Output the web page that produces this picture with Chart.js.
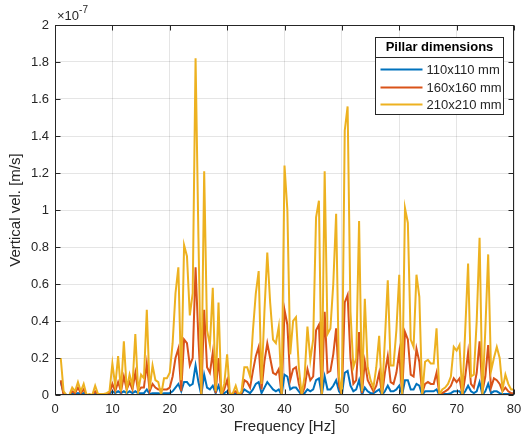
<!doctype html>
<html>

<head>
	<title>Vertical velocity spectrum</title>
	<script src="https://cdn.jsdelivr.net/npm/chart.js@4.4.1/dist/chart.umd.min.js"></script>
	<style>
	body {
		margin: 0;
		background: #fff;
	}
	canvas {
		display: block;
	}
	</style>
</head>

<body>
	<canvas id="chart" width="532" height="443"></canvas>
	<script>
		// spectrum sampled every 0.5 Hz from 1 Hz to 80 Hz, values in 1e-7 m/s
		var startHz = 1;
		var stepHz = 0.5;

		var vel110 = [
			0.07, 0.01, 0.00, 0.00, 0.01, 0.005, 0.01, 0.005, 0.01, 0.00,
			0.00, 0.00, 0.01, 0.00, 0.00, 0.00, 0.00, 0.005, 0.02, 0.01,
			0.02, 0.01, 0.02, 0.01, 0.02, 0.01, 0.02, 0.01, 0.01, 0.01,
			0.03, 0.005, 0.01, 0.01, 0.01, 0.005, 0.01, 0.01, 0.01, 0.02,
			0.04, 0.06, 0.02, 0.07, 0.07, 0.05, 0.06, 0.16, 0.07, 0.00,
			0.11, 0.04, 0.03, 0.05, 0.01, 0.05, 0.00, 0.01, 0.02, 0.00,
			0.005, 0.005, 0.00, 0.005, 0.03, 0.02, 0.01, 0.03, 0.06, 0.07,
			0.01, 0.04, 0.07, 0.05, 0.03, 0.02, 0.03, 0.00, 0.11, 0.10,
			0.03, 0.04, 0.04, 0.02, 0.00, 0.01, 0.03, 0.02, 0.03, 0.08,
			0.09, 0.00, 0.10, 0.03, 0.03, 0.05, 0.08, 0.02, 0.00, 0.12,
			0.13, 0.05, 0.02, 0.03, 0.08, 0.00, 0.04, 0.02, 0.01, 0.01,
			0.02, 0.03, 0.00, 0.02, 0.05, 0.02, 0.02, 0.03, 0.05, 0.00,
			0.08, 0.08, 0.03, 0.03, 0.06, 0.05, 0.00, 0.02, 0.02, 0.02,
			0.02, 0.03, 0.00, 0.005, 0.005, 0.005, 0.01, 0.02, 0.02, 0.02,
			0.00, 0.02, 0.05, 0.02, 0.01, 0.02, 0.07, 0.00, 0.02, 0.06,
			0.01, 0.02, 0.02, 0.01, 0.005, 0.005, 0.005, 0.005, 0.005
		];

		var vel160 = [
			0.08, 0.00, 0.00, 0.00, 0.02, 0.01, 0.04, 0.01, 0.03, 0.00,
			0.00, 0.00, 0.02, 0.00, 0.00, 0.00, 0.005, 0.01, 0.06, 0.02,
			0.07, 0.02, 0.10, 0.03, 0.07, 0.03, 0.12, 0.02, 0.04, 0.04,
			0.17, 0.02, 0.06, 0.04, 0.03, 0.03, 0.03, 0.03, 0.04, 0.10,
			0.20, 0.25, 0.02, 0.30, 0.28, 0.16, 0.20, 0.69, 0.30, 0.00,
			0.46, 0.15, 0.12, 0.23, 0.01, 0.20, 0.00, 0.03, 0.08, 0.00,
			0.01, 0.02, 0.00, 0.01, 0.08, 0.07, 0.04, 0.13, 0.21, 0.26,
			0.03, 0.18, 0.28, 0.20, 0.12, 0.11, 0.14, 0.00, 0.46, 0.38,
			0.08, 0.14, 0.15, 0.06, 0.00, 0.04, 0.14, 0.08, 0.10, 0.35,
			0.38, 0.00, 0.45, 0.12, 0.13, 0.22, 0.36, 0.05, 0.00, 0.50,
			0.54, 0.20, 0.06, 0.08, 0.34, 0.01, 0.18, 0.08, 0.05, 0.02,
			0.05, 0.12, 0.00, 0.12, 0.21, 0.07, 0.06, 0.12, 0.23, 0.00,
			0.34, 0.30, 0.11, 0.10, 0.25, 0.18, 0.01, 0.06, 0.07, 0.06,
			0.06, 0.12, 0.00, 0.01, 0.02, 0.03, 0.05, 0.09, 0.07, 0.09,
			0.00, 0.10, 0.23, 0.06, 0.04, 0.12, 0.29, 0.02, 0.10, 0.27,
			0.04, 0.09, 0.08, 0.06, 0.02, 0.04, 0.02, 0.01, 0.01
		];

		var vel210 = [
			0.20, 0.02, 0.00, 0.00, 0.04, 0.02, 0.07, 0.02, 0.06, 0.00,
			0.005, 0.00, 0.05, 0.005, 0.005, 0.005, 0.01, 0.02, 0.17, 0.05,
			0.21, 0.02, 0.29, 0.03, 0.11, 0.05, 0.33, 0.02, 0.11, 0.09,
			0.46, 0.03, 0.16, 0.08, 0.07, 0.00, 0.09, 0.09, 0.12, 0.28,
			0.55, 0.69, 0.08, 0.81, 0.75, 0.43, 0.55, 1.82, 0.85, 0.00,
			1.21, 0.35, 0.27, 0.58, 0.02, 0.50, 0.00, 0.06, 0.22, 0.00,
			0.01, 0.05, 0.00, 0.02, 0.15, 0.15, 0.10, 0.35, 0.55, 0.67,
			0.06, 0.45, 0.77, 0.50, 0.30, 0.28, 0.37, 0.00, 1.24, 1.00,
			0.22, 0.40, 0.42, 0.15, 0.00, 0.10, 0.37, 0.19, 0.30, 0.96,
			1.05, 0.00, 1.21, 0.33, 0.36, 0.60, 0.98, 0.10, 0.00, 1.43,
			1.56, 0.45, 0.15, 0.20, 0.94, 0.02, 0.52, 0.15, 0.08, 0.04,
			0.15, 0.32, 0.00, 0.30, 0.62, 0.16, 0.16, 0.35, 0.65, 0.00,
			1.01, 0.93, 0.30, 0.26, 0.65, 0.53, 0.00, 0.18, 0.19, 0.17,
			0.17, 0.36, 0.00, 0.03, 0.04, 0.06, 0.10, 0.26, 0.24, 0.27,
			0.00, 0.35, 0.71, 0.10, 0.11, 0.40, 0.85, 0.00, 0.35, 0.76,
			0.13, 0.20, 0.26, 0.20, 0.03, 0.11, 0.06, 0.03, 0.03
		];

		var seriesLabels = ['110x110 mm', '160x160 mm', '210x210 mm'];
		var seriesColors = ['#0072BD', '#D95319', '#EDB120'];
		var xTicks = [0, 10, 20, 30, 40, 50, 60, 70, 80];
		var yTicks = [0, 0.2, 0.4, 0.6, 0.8, 1, 1.2, 1.4, 1.6, 1.8, 2];

		var axisColor = '#262626';
		var fontFamily = '"Liberation Sans", Arial, sans-serif';

		function toPoints(values) {
			return values.map(function(v, i) {
				return {x: startHz + i * stepHz, y: v};
			});
		}

		// MATLAB-like box, inward ticks, exponent label and titled legend
		var matlabFrame = {
			id: 'matlabFrame',
			afterDraw: function(chart) {
				var ctx = chart.ctx;
				var a = chart.chartArea;
				var xs = chart.scales.x;
				var ys = chart.scales.y;
				var l = Math.round(a.left) + 0.5;
				var r = Math.round(a.right) - 0.5;
				var t = Math.round(a.top) + 0.5;
				var b = Math.round(a.bottom) - 0.5;

				ctx.save();
				ctx.strokeStyle = axisColor;
				ctx.lineWidth = 1;
				ctx.strokeRect(l, t, r - l, b - t);

				ctx.beginPath();
				xTicks.forEach(function(v) {
					var px = Math.round(xs.getPixelForValue(v)) + 0.5;
					ctx.moveTo(px, b);
					ctx.lineTo(px, b - 5);
					ctx.moveTo(px, t);
					ctx.lineTo(px, t + 5);
				});
				yTicks.forEach(function(v) {
					var py = Math.round(ys.getPixelForValue(v)) + 0.5;
					ctx.moveTo(l, py);
					ctx.lineTo(l + 5, py);
					ctx.moveTo(r, py);
					ctx.lineTo(r - 5, py);
				});
				ctx.stroke();

				// exponent
				ctx.fillStyle = axisColor;
				ctx.textAlign = 'left';
				ctx.textBaseline = 'alphabetic';
				ctx.font = '13px ' + fontFamily;
				ctx.fillText('\u00d710', a.left + 2, a.top - 5);
				var w = ctx.measureText('\u00d710').width;
				ctx.font = '10px ' + fontFamily;
				ctx.fillText('-7', a.left + 2 + w, a.top - 12);

				// legend
				var bw = 128, bh = 77;
				var bx = Math.round(a.right - 11 - bw) + 0.5;
				var by = Math.round(a.top + 12) + 0.5;
				ctx.fillStyle = '#fff';
				ctx.fillRect(bx, by, bw, bh);
				ctx.strokeStyle = axisColor;
				ctx.strokeRect(bx, by, bw, bh);
				ctx.beginPath();
				ctx.moveTo(bx, by + 20);
				ctx.lineTo(bx + bw, by + 20);
				ctx.stroke();

				ctx.fillStyle = '#000';
				ctx.textAlign = 'center';
				ctx.textBaseline = 'middle';
				ctx.font = 'bold 13px ' + fontFamily;
				ctx.fillText('Pillar dimensions', bx + bw / 2, by + 10);

				ctx.font = '13px ' + fontFamily;
				ctx.textAlign = 'left';
				var rows = [32, 50, 67];
				seriesLabels.forEach(function(label, i) {
					var yy = by + rows[i];
					ctx.strokeStyle = seriesColors[i];
					ctx.lineWidth = 2;
					ctx.beginPath();
					ctx.moveTo(bx + 5, yy);
					ctx.lineTo(bx + 47, yy);
					ctx.stroke();
					ctx.fillStyle = axisColor;
					ctx.fillText(label, bx + 51, yy + 1);
				});
				ctx.restore();
			}
		};

		window.onload = function() {
			var ctx = document.getElementById('chart').getContext('2d');

			var seriesValues = [vel110, vel160, vel210];
			var datasets = seriesValues.map(function(values, i) {
				return {
					label: seriesLabels[i],
					data: toPoints(values),
					borderColor: seriesColors[i],
					backgroundColor: seriesColors[i],
					borderWidth: 2,
					pointRadius: 0,
					tension: 0,
					fill: false,
					order: 3 - i
				};
			});

			new Chart(ctx, {
				type: 'line',
				data: {datasets: datasets},
				options: {
					responsive: false,
					animation: false,
					devicePixelRatio: 1,
					layout: {
						padding: {top: 25, right: 18, left: 0, bottom: 0}
					},
					plugins: {
						legend: {display: false},
						tooltip: {enabled: false}
					},
					scales: {
						x: {
							type: 'linear',
							min: 0,
							max: 80,
							afterFit: function(scale) { scale.height = 48; },
							afterBuildTicks: function(scale) {
								scale.ticks = xTicks.map(function(v) { return {value: v}; });
							},
							grid: {color: 'rgba(38,38,38,0.12)', drawTicks: false},
							border: {display: false},
							ticks: {
								color: axisColor,
								padding: 7,
								maxRotation: 0,
								font: {family: fontFamily, size: 13}
							},
							title: {
								display: true,
								text: 'Frequency [Hz]',
								color: axisColor,
								padding: {top: 0, bottom: 7},
								font: {family: fontFamily, size: 15}
							}
						},
						y: {
							type: 'linear',
							min: 0,
							max: 2,
							afterFit: function(scale) { scale.width = 55; },
							afterBuildTicks: function(scale) {
								scale.ticks = yTicks.map(function(v) { return {value: v}; });
							},
							grid: {color: 'rgba(38,38,38,0.12)', drawTicks: false},
							border: {display: false},
							ticks: {
								color: axisColor,
								padding: 6,
								font: {family: fontFamily, size: 13},
								callback: function(v) { return String(Math.round(v * 10) / 10); }
							},
							title: {
								display: true,
								text: 'Vertical vel. [m/s]',
								color: axisColor,
								padding: {top: 7, bottom: 0},
								font: {family: fontFamily, size: 15}
							}
						}
					}
				},
				plugins: [matlabFrame]
			});
		};
	</script>
</body>

</html>
